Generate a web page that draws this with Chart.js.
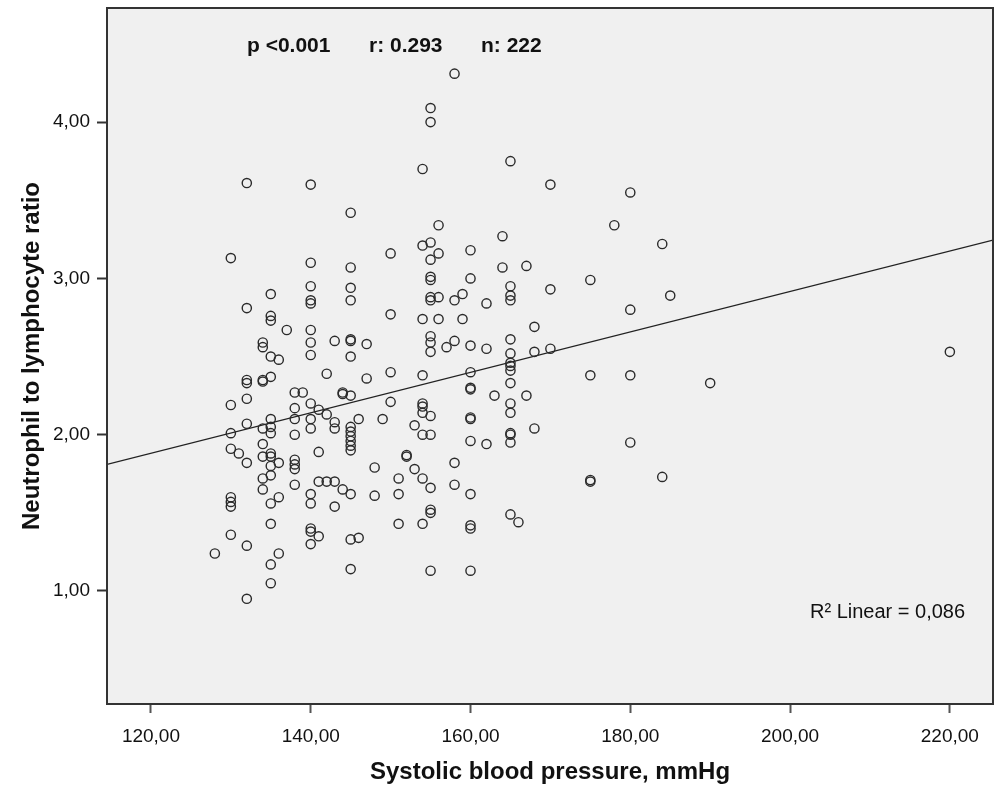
<!DOCTYPE html>
<html>
<head>
<meta charset="utf-8">
<script src="https://cdn.jsdelivr.net/npm/chart.js@4.4.1/dist/chart.umd.min.js"></script>
<style>
  html, body { margin: 0; padding: 0; background: #fff; }
  #wrap { width: 1000px; height: 793px; }
</style>
</head>
<body>
<div id="wrap"><canvas id="nlrChart" width="1000" height="793"></canvas></div>
<script>
// systolic blood pressure (mmHg) and NLR
var sbp = [
    128,
    130, 130, 130, 130, 130, 130, 130, 130,
    131,
    132, 132, 132, 132, 132, 132, 132, 132, 132,
    134, 134, 134, 134, 134, 134, 134, 134, 134,
    135, 135, 135, 135, 135, 135, 135, 135, 135, 135, 135, 135, 135, 135, 135, 135,
    136, 136, 136, 136,
    137,
    138, 138, 138, 138, 138, 138, 138, 138,
    139,
    140, 140, 140, 140, 140, 140, 140, 140, 140, 140, 140, 140, 140, 140, 140, 140,
    141, 141, 141, 141,
    142, 142, 142,
    143, 143, 143, 143, 143,
    144, 144, 144,
    145, 145, 145, 145, 145, 145, 145, 145, 145, 145, 145, 145, 145, 145, 145, 145, 145,
    146, 146,
    147, 147,
    148, 148,
    149,
    150, 150, 150, 150,
    151, 151, 151,
    152, 152,
    153, 153,
    154, 154, 154, 154, 154, 154, 154, 154, 154, 154,
    155, 155, 155, 155, 155, 155, 155, 155, 155, 155, 155, 155, 155, 155, 155, 155, 155,
    156, 156, 156, 156,
    157,
    158, 158, 158, 158, 158,
    159, 159,
    160, 160, 160, 160, 160, 160, 160, 160, 160, 160, 160, 160, 160,
    162, 162, 162,
    163,
    164, 164,
    165, 165, 165, 165, 165, 165, 165, 165, 165, 165, 165, 165, 165, 165, 165, 165,
    166,
    167, 167,
    168, 168, 168,
    170, 170, 170,
    175, 175, 175, 175,
    178,
    180, 180, 180, 180,
    184, 184,
    185,
    190,
    220
];
var nlr = [
    1.24,
    3.13, 2.19, 2.01, 1.91, 1.60, 1.57, 1.54, 1.36,
    1.88,
    3.61, 2.81, 2.35, 2.33, 2.23, 2.07, 1.82, 1.29, 0.95,
    2.59, 2.56, 2.35, 2.34, 2.04, 1.94, 1.86, 1.72, 1.65,
    2.90, 2.76, 2.73, 2.50, 2.37, 2.10, 2.05, 2.01, 1.88, 1.86, 1.80, 1.74, 1.56, 1.43, 1.17, 1.05,
    2.48, 1.82, 1.60, 1.24,
    2.67,
    2.27, 2.17, 2.10, 2.00, 1.84, 1.81, 1.78, 1.68,
    2.27,
    3.60, 3.10, 2.95, 2.86, 2.84, 2.67, 2.59, 2.51, 2.20, 2.10, 2.04, 1.62, 1.56, 1.40, 1.38, 1.30,
    2.16, 1.89, 1.70, 1.35,
    2.39, 2.13, 1.70,
    2.60, 2.08, 2.04, 1.70, 1.54,
    2.27, 2.26, 1.65,
    3.42, 3.07, 2.94, 2.86, 2.61, 2.60, 2.50, 2.25, 2.05, 2.02, 1.99, 1.96, 1.93, 1.90, 1.62, 1.33, 1.14,
    2.10, 1.34,
    2.58, 2.36,
    1.79, 1.61,
    2.10,
    3.16, 2.77, 2.40, 2.21,
    1.72, 1.62, 1.43,
    1.87, 1.86,
    2.06, 1.78,
    3.70, 3.21, 2.74, 2.38, 2.20, 2.18, 2.14, 2.00, 1.72, 1.43,
    4.09, 4.00, 3.23, 3.12, 3.01, 2.99, 2.88, 2.86, 2.63, 2.59, 2.53, 2.12, 2.00, 1.66, 1.52, 1.50, 1.13,
    3.34, 3.16, 2.88, 2.74,
    2.56,
    4.31, 2.86, 2.60, 1.82, 1.68,
    2.90, 2.74,
    3.18, 3.00, 2.57, 2.40, 2.30, 2.29, 2.11, 2.10, 1.96, 1.62, 1.42, 1.40, 1.13,
    2.84, 2.55, 1.94,
    2.25,
    3.27, 3.07,
    3.75, 2.95, 2.89, 2.86, 2.61, 2.52, 2.46, 2.44, 2.41, 2.33, 2.20, 2.14, 2.01, 2.00, 1.95, 1.49,
    1.44,
    3.08, 2.25,
    2.69, 2.53, 2.04,
    3.60, 2.93, 2.55,
    2.99, 2.38, 1.71, 1.70,
    3.34,
    3.55, 2.80, 2.38, 1.95,
    3.22, 1.73,
    2.89,
    2.33,
    2.53
];

// fit line, ends read at the plot edges
var fitX = [114.5, 225.4];
var fitY = [1.81, 3.245];

var xTicks = [120, 140, 160, 180, 200, 220];
var yTicks = [1, 2, 3, 4];

var statsText = ['p <0.001', 'r: 0.293', 'n: 222'];
var r2Text = 'R\u00B2 Linear = 0,086';

var fontFamily = '"Liberation Sans", Arial, sans-serif';

function commaFmt(v) {
    return v.toFixed(2).replace('.', ',');
}

var boxPlugin = {
    id: 'spssBox',
    beforeDatasetsDraw: function(chart) {
        var a = chart.chartArea, ctx = chart.ctx;
        ctx.save();
        ctx.fillStyle = '#f0f0f0';
        ctx.fillRect(a.left, a.top, a.right - a.left, a.bottom - a.top);
        ctx.restore();
    },
    afterDraw: function(chart) {
        var a = chart.chartArea, ctx = chart.ctx;
        ctx.save();
        ctx.strokeStyle = '#333';
        ctx.lineWidth = 2;
        ctx.strokeRect(a.left, a.top, a.right - a.left, a.bottom - a.top);

        ctx.fillStyle = '#111';
        ctx.textBaseline = 'middle';
        ctx.textAlign = 'left';
        ctx.font = 'bold 21px ' + fontFamily;
        var xs = [247, 369, 481];
        statsText.forEach(function(t, i) {
            ctx.fillText(t, xs[i], 46);
        });

        ctx.font = '20px ' + fontFamily;
        ctx.fillText(r2Text, 810, 612);
        ctx.restore();
    }
};

var canvas = document.getElementById('nlrChart');

var chart = new Chart(canvas, {
    type: 'scatter',
    data: {
        datasets: [{
            label: 'NLR',
            data: sbp.map((x, i) => ({ x: x, y: nlr[i] })),
            showLine: false,
            pointRadius: 4.6,
            pointBorderWidth: 1.4,
            pointBackgroundColor: 'rgba(0,0,0,0)',
            pointBorderColor: '#2a2a2a'
        }, {
            label: 'Fit',
            type: 'line',
            data: fitX.map((x, i) => ({ x: x, y: fitY[i] })),
            borderColor: '#222',
            borderWidth: 1.3,
            pointRadius: 0,
            fill: false
        }]
    },
    options: {
        responsive: false,
        animation: false,
        layout: {
            padding: { left: 0, right: 7, top: 8, bottom: 0 }
        },
        scales: {
            x: {
                type: 'linear',
                min: 114.5,
                max: 225.4,
                afterBuildTicks: function(scale) {
                    scale.ticks = xTicks.map(v => ({ value: v }));
                },
                afterFit: function(scale) {
                    scale.height = 89;
                    scale.paddingLeft = 0;
                    scale.paddingRight = 0;
                },
                grid: {
                    display: true,
                    drawOnChartArea: false,
                    tickLength: 9,
                    tickWidth: 2,
                    tickColor: '#555'
                },
                border: { display: false },
                ticks: {
                    padding: 12,
                    color: '#111',
                    font: { family: fontFamily, size: 19 },
                    maxRotation: 0,
                    callback: function(value) {
                        return commaFmt(value);
                    }
                },
                title: {
                    display: true,
                    text: 'Systolic blood pressure, mmHg',
                    color: '#111',
                    font: { family: fontFamily, size: 24, weight: 'bold' },
                    padding: { top: 0, bottom: 6 }
                }
            },
            y: {
                type: 'linear',
                min: 0.277,
                max: 4.73,
                afterBuildTicks: function(scale) {
                    scale.ticks = yTicks.map(v => ({ value: v }));
                },
                afterFit: function(scale) {
                    scale.width = 107;
                    scale.paddingTop = 0;
                    scale.paddingBottom = 0;
                },
                grid: {
                    display: true,
                    drawOnChartArea: false,
                    tickLength: 10,
                    tickWidth: 2,
                    tickColor: '#333'
                },
                border: { display: false },
                ticks: {
                    padding: 7,
                    color: '#111',
                    font: { family: fontFamily, size: 19 },
                    callback: function(value) {
                        return commaFmt(value);
                    }
                },
                title: {
                    display: true,
                    text: 'Neutrophil to lymphocyte ratio',
                    color: '#111',
                    font: { family: fontFamily, size: 24, weight: 'bold' },
                    padding: { top: 18, bottom: 0 }
                }
            }
        },
        plugins: {
            legend: { display: false },
            tooltip: { enabled: false }
        }
    },
    plugins: [boxPlugin]
});
</script>
</body>
</html>
